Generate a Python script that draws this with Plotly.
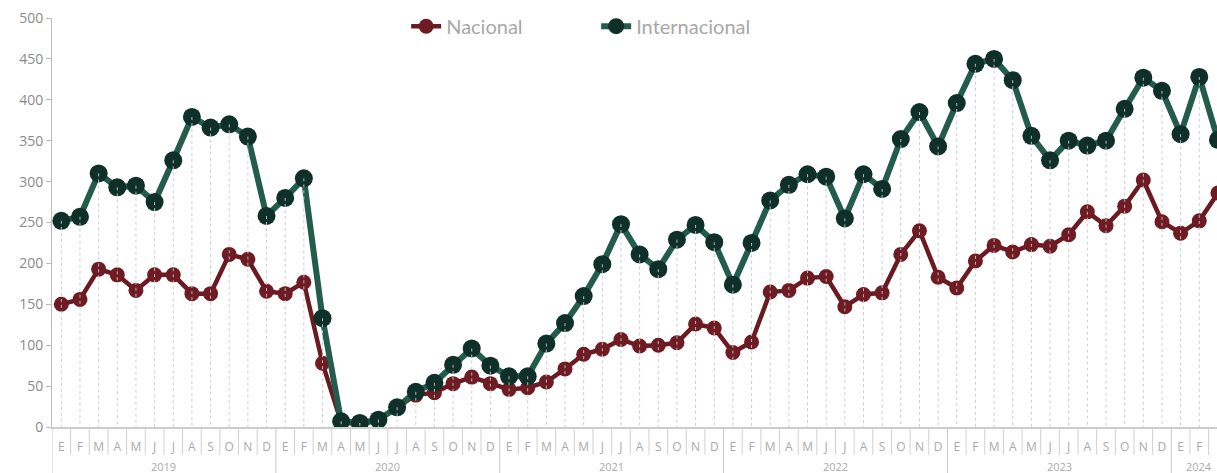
import plotly.graph_objects as go

months = ["E", "F", "M", "A", "M", "J", "J", "A", "S", "O", "N", "D"]
years = ["2019", "2020", "2021", "2022", "2023", "2024"]

nacional = [
    150, 156, 193, 186, 167, 186, 186, 163, 163, 211, 205, 166,
    163, 177, 78, 6, 3, 8, 24, 39, 42, 53, 61, 53,
    46, 48, 55, 71, 89, 95, 107, 99, 100, 103, 126, 121,
    91, 104, 165, 167, 182, 184, 147, 162, 164, 211, 240, 183,
    170, 203, 222, 214, 223, 221, 235, 263, 246, 270, 302, 251,
    237, 252, 286,
]
internacional = [
    252, 257, 310, 293, 295, 275, 326, 379, 366, 370, 355, 258,
    280, 304, 133, 7, 5, 9, 24, 43, 54, 76, 96, 75,
    62, 62, 102, 127, 160, 199, 248, 211, 193, 229, 247, 226,
    174, 225, 277, 296, 309, 306, 255, 309, 291, 352, 385, 343,
    396, 444, 450, 424, 356, 326, 350, 344, 350, 389, 427, 411,
    358, 428, 351,
]

n = len(nacional)
xs = list(range(n))
tick_text = [months[i % 12] for i in xs]

red_line = "#6b1a21"
red_mark = "#6e1b23"
green_line = "#235c4c"
green_mark = "#0e3028"

fig = go.Figure()

fig.add_trace(go.Scatter(
    x=xs, y=nacional, name="Nacional", mode="lines+markers",
    line=dict(color=red_line, width=4.5),
    marker=dict(color=red_mark, size=15),
    hoverinfo="skip",
))
fig.add_trace(go.Scatter(
    x=xs, y=internacional, name="Internacional", mode="lines+markers",
    line=dict(color=green_line, width=6),
    marker=dict(color=green_mark, size=18),
    hoverinfo="skip",
))

# drop lines from highest point of each month to zero
dx, dy = [], []
for i in xs:
    dx += [i, i, None]
    dy += [max(nacional[i], internacional[i]), 0, None]
fig.add_trace(go.Scatter(
    x=dx, y=dy, mode="lines", showlegend=False, hoverinfo="skip",
    line=dict(color="rgba(200,200,200,0.9)", width=1, dash="dot"),
))

shapes = []
# month separators
for i in range(n):
    b = i + 0.5
    if (i + 1) % 12 == 0:
        continue
    shapes.append(dict(type="line", xref="x", yref="paper", x0=b, x1=b,
                       y0=0, y1=-0.068, line=dict(color="#d0d0d0", width=1)))
# year separators
for k in range(len(years)):
    b = k * 12 - 0.5
    shapes.append(dict(type="line", xref="x", yref="paper", x0=b, x1=b,
                       y0=0, y1=-0.12, line=dict(color="#c8c8c8", width=1)))

annotations = []
for k, yr in enumerate(years):
    start = k * 12
    end = min(start + 11, n - 1)
    annotations.append(dict(
        x=(start + end) / 2, y=-0.097, xref="x", yref="paper",
        text=yr, showarrow=False, yanchor="middle",
        font=dict(family="Open Sans", size=11, color="#aaaaaa"),
    ))

fig.update_layout(
    width=1217, height=473,
    margin=dict(l=52, r=0, t=18, b=46, autoexpand=False),
    paper_bgcolor="white", plot_bgcolor="white",
    showlegend=True,
    legend=dict(
        orientation="h", x=0.304, xanchor="left",
        yref="paper", y=0.98, yanchor="middle",
        entrywidth=145, entrywidthmode="pixels",
        itemwidth=30,
        font=dict(family="Lato", size=20, color="#a8a8a8"),
        bgcolor="rgba(0,0,0,0)",
        traceorder="normal",
    ),
    shapes=shapes,
    annotations=annotations,
    hovermode=False,
)

fig.update_xaxes(
    range=[-0.5, 61.95], automargin=False,
    tickmode="array", tickvals=xs, ticktext=tick_text,
    tickfont=dict(family="Open Sans", size=12, color="#aaaaaa"),
    ticks="outside", ticklen=8, tickcolor="rgba(0,0,0,0)",
    showgrid=False, zeroline=False,
    showline=True, linecolor="#cccccc", linewidth=2,
    tickangle=0,
)
fig.update_yaxes(
    range=[0, 500], automargin=False,
    tickvals=[0, 50, 100, 150, 200, 250, 300, 350, 400, 450, 500],
    tickfont=dict(family="Open Sans", size=14, color="#8a8a8a"),
    ticks="outside", ticklen=5, tickcolor="#bbbbbb",
    showgrid=False, zeroline=False,
    showline=True, linecolor="#bbbbbb", linewidth=1,
)

fig.write_html(
    "out.html",
    config={"displayModeBar": False},
    post_script="document.body.style.margin='0';document.body.style.overflow='hidden';",
)
